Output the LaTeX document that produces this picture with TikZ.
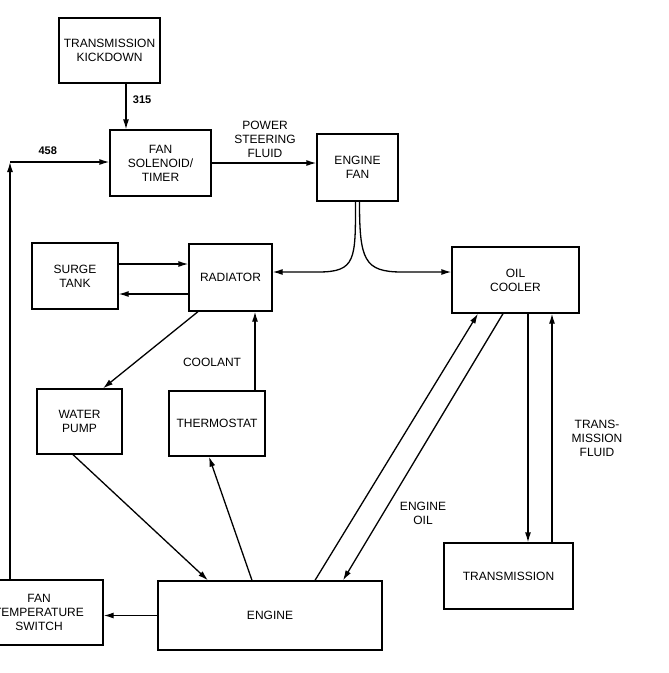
\documentclass[tikz,border=0pt]{standalone}
\usepackage{fontspec}
\setsansfont{Liberation Sans}
\usetikzlibrary{arrows.meta,positioning,calc}

\begin{document}
\begin{tikzpicture}[x=1pt, y=-1pt,
    box/.style={rectangle, draw, line width=1.3pt, align=center, inner sep=2pt,
                font=\sffamily\fontsize{12}{14}\selectfont},
    lbl/.style={align=center, font=\sffamily\fontsize{12}{14}\selectfont},
    num/.style={font=\sffamily\bfseries\fontsize{11}{13}\selectfont},
    arr/.style={-{Latex[length=10pt,width=6pt]}, line width=1.3pt}
]
  \useasboundingbox (0,0) rectangle (669,673);

  \node[box, minimum width=101pt, minimum height=65pt] (kick)   at (109.5,50.5) {TRANSMISSION\\KICKDOWN};
  \node[box, minimum width=101pt, minimum height=66pt] (sol)    at (160.5,163)  {FAN\\SOLENOID/\\TIMER};
  \node[box, minimum width=81pt,  minimum height=67pt] (fan)    at (357.5,167.5) {ENGINE\\FAN};
  \node[box, minimum width=86pt,  minimum height=66pt] (surge)  at (75,276)     {SURGE\\TANK};
  \node[box, minimum width=83pt,  minimum height=67pt] (rad)    at (230.5,277.5) {RADIATOR};
  \node[box, minimum width=127pt, minimum height=66pt] (cooler) at (515.5,280)  {OIL\\COOLER};
  \node[box, minimum width=85pt,  minimum height=65pt] (pump)   at (79.5,421.5) {WATER\\PUMP};
  \node[box, minimum width=96pt,  minimum height=65pt] (thermo) at (217,423.5)  {THERMOSTAT};
  \node[box, minimum width=129pt, minimum height=66pt] (trans)  at (508.5,576)  {TRANSMISSION};
  \node[box, minimum width=224pt, minimum height=69pt] (engine) at (270,615.5)  {ENGINE};
  \node[box, minimum width=128pt, minimum height=65pt] (fts)    at (39,612.5)   {FAN\\TEMPERATURE\\SWITCH};

  \coordinate (corner) at (10,162);

  \draw[arr] ([xshift=16.5pt]kick.south) -- node[num, right=3pt, pos=0.35] {315} ([xshift=16.5pt]kick.south |- sol.north);
  \draw[arr] (sol.east) -- (sol.east -| fan.west);
  \node[lbl] (psf) at (265,139) {POWER\\STEERING\\FLUID};
  \draw[arr] (fts.north -| corner) -- (corner);
  \draw[arr] (corner) -- node[num, above=3pt, pos=0.38] {458} (corner -| sol.west);

  \draw[arr] ([xshift=-2pt]fan.south) .. controls +(0,58) and +(38,0) .. (318,272) -- ([yshift=5.5pt]rad.east);
  \draw[arr] ([xshift=2pt]fan.south) .. controls +(0,58) and +(-38,0) .. (402,272) -- ([yshift=8pt]cooler.west);

  \draw[arr] ([yshift=12pt]surge.east) -- ([yshift=12pt]surge.east -| rad.west);
  \draw[arr] ([yshift=-18pt]surge.east -| rad.west) -- ([yshift=-18pt]surge.east);
  \draw[arr] ([xshift=-32.5pt]rad.south) -- ([xshift=23.5pt]pump.north);
  \draw[arr] ([xshift=38pt]thermo.north) -- node[lbl, pos=0.36, left=10pt] {COOLANT} ([xshift=38pt]thermo.north |- rad.south);
  \draw[arr] ([xshift=-6.5pt]pump.south) -- ([xshift=-62pt]engine.north);
  \draw[arr] ([xshift=-18pt]engine.north) -- ([xshift=-8pt]thermo.south);

  \draw[arr] ([xshift=45pt]engine.north) -- ([xshift=-37.5pt]cooler.south);
  \draw[arr] ([xshift=-12.5pt]cooler.south) -- ([xshift=73pt]engine.north);
  \node[lbl] (eoil) at (423,513) {ENGINE\\OIL};

  \draw[arr] ([xshift=12.5pt]cooler.south) -- ([xshift=12.5pt]cooler.south |- trans.north);
  \draw[arr] ([xshift=36.5pt]cooler.south |- trans.north) -- ([xshift=36.5pt]cooler.south);
  \node[lbl] (tfl) at (597,438) {TRANS-\\MISSION\\FLUID};

  \draw[arr] (engine.west) -- (engine.west -| fts.east);
\end{tikzpicture}
\end{document}
